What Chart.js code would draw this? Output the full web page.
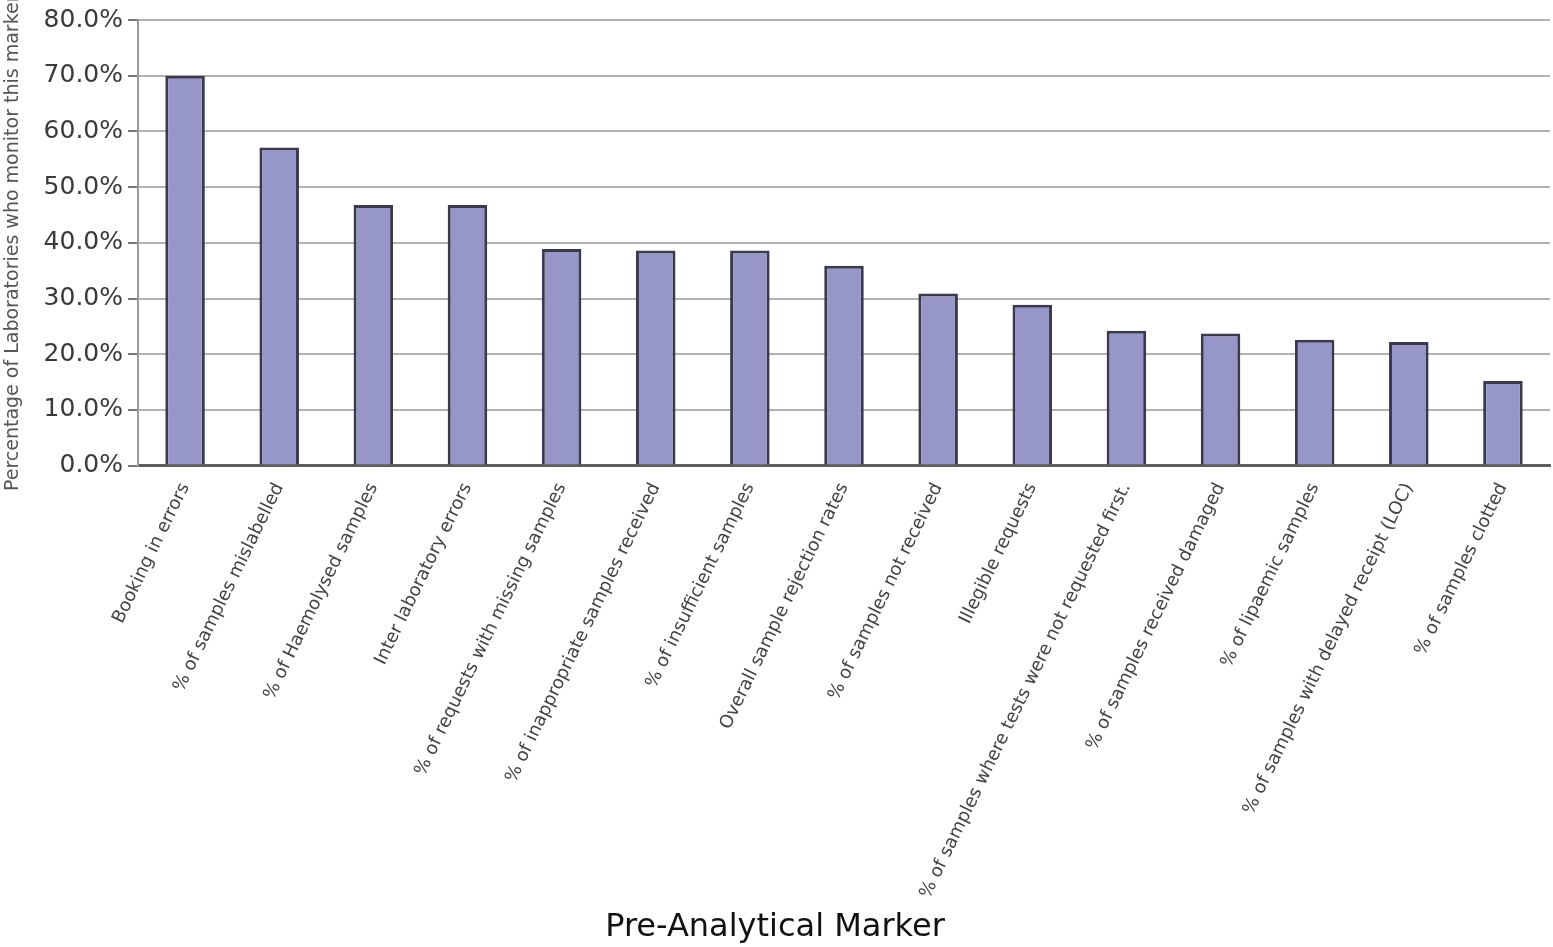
<!DOCTYPE html>
<html>
<head>
<meta charset="utf-8">
<script src="https://cdn.jsdelivr.net/npm/chart.js@4.4.0/dist/chart.umd.min.js"></script>
<style>
  html, body { margin: 0; padding: 0; background: #ffffff; }
  #wrap { width: 1553px; height: 947px; position: relative; }
</style>
</head>
<body>
<div id="wrap"><canvas id="chart" width="1553" height="947"></canvas></div>
<script>
// Pre-analytical markers and share of laboratories monitoring each one
const markers = [
  "Booking in errors",
  "% of samples mislabelled",
  "% of Haemolysed samples",
  "Inter laboratory errors",
  "% of requests with missing samples",
  "% of inappropriate samples received",
  "% of insufficient samples",
  "Overall sample rejection rates",
  "% of samples not received",
  "Illegible requests",
  "% of samples where tests were not requested first.",
  "% of samples received damaged",
  "% of lipaemic samples",
  "% of samples with delayed receipt (LOC)",
  "% of samples clotted"
];
const percentMonitoring = [70.0, 57.1, 46.8, 46.8, 38.9, 38.6, 38.6, 35.9, 30.9, 28.9, 24.2, 23.7, 22.6, 22.2, 15.2];
const yTicks = [0, 10, 20, 30, 40, 50, 60, 70, 80];

const ctx = document.getElementById('chart').getContext('2d');
new Chart(ctx, {
  type: 'bar',
  data: {
    labels: markers,
    datasets: [{
      data: percentMonitoring,
      backgroundColor: '#9696c9',
      borderColor: '#3a3a4c',
      borderWidth: 3,
      borderSkipped: 'bottom',
      barPercentage: 0.42,
      categoryPercentage: 1.0
    }]
  },
  options: {
    responsive: false,
    animation: false,
    layout: { padding: { top: 20, right: 3, left: 0, bottom: 0 } },
    plugins: {
      legend: { display: false },
      tooltip: { enabled: false },
      title: {
        display: true,
        position: 'bottom',
        align: 'center',
        text: 'Pre-Analytical Marker',
        color: '#111111',
        font: { family: 'DejaVu Sans', size: 32, weight: 'normal' },
        padding: { top: 0, bottom: 0 }
      }
    },
    scales: {
      x: {
        grid: { display: false, drawTicks: false },
        border: { color: '#5e5e5e', width: 3 },
        ticks: {
          autoSkip: false,
          minRotation: 64,
          maxRotation: 64,
          padding: 14,
          color: '#444444',
          font: { family: 'DejaVu Sans', size: 18 }
        },
        afterFit: (scale) => { scale.height = 947 - 466 - 38; }
      },
      y: {
        min: 0,
        max: 80,
        afterBuildTicks: (scale) => { scale.ticks = yTicks.map(v => ({ value: v })); },
        grid: {
          color: '#b2b2b2',
          lineWidth: 2,
          drawTicks: true,
          tickLength: 10,
          tickColor: '#777777'
        },
        border: { color: '#9a9a9a', width: 2 },
        ticks: {
          padding: 5,
          color: '#3a3a3a',
          font: { family: 'DejaVu Sans', size: 25 },
          callback: (v) => Number(v).toFixed(1) + '%'
        },
        title: {
          display: true,
          text: 'Percentage of Laboratories who monitor this marker',
          color: '#555555',
          font: { family: 'DejaVu Sans', size: 19 },
          padding: { top: 2, bottom: 0 }
        },
        afterFit: (scale) => { scale.width = 138; }
      }
    }
  }
});
</script>
</body>
</html>
